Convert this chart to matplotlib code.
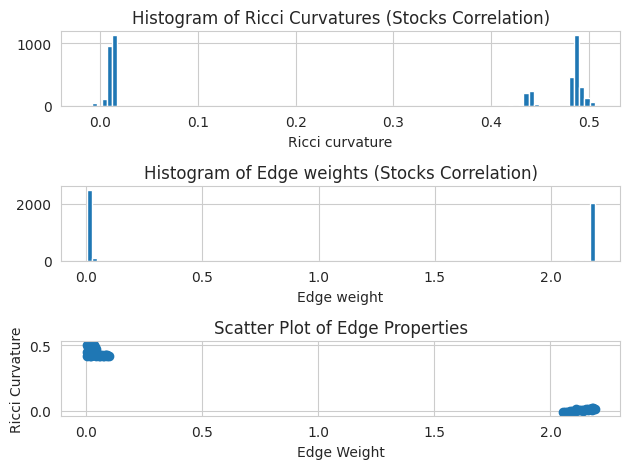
import numpy as np
import matplotlib
matplotlib.use("Agg")
import matplotlib.pyplot as plt
import seaborn as sns

sns.set_style("whitegrid")

# histogram of ricci curvatures: 100 bins, counts of the non-empty bins
ricci_min, ricci_max = -0.014, 0.506
ricci_bins = [0, 1, 3, 4, 5, 83, 85, 86, 87, 88, 95, 96, 97, 98, 99]
ricci_counts = [2, 44, 110, 954, 1133, 10, 10, 201, 239, 27, 467, 1135, 304, 125, 60]

# histogram of edge weights: 100 bins
weight_min, weight_max = 0.0014, 2.1874
weight_bins = [0, 1, 95, 97, 98, 99]
weight_counts = [2492, 84, 12, 30, 12, 2035]

# scatter points (edge weight, ricci curvature)
scatter_w = [0.003, 0.008, 0.013, 0.013, 0.018, 0.023, 0.023, 0.028, 0.033, 0.033,
             0.005, 0.011, 0.021, 0.038, 0.043, 0.053, 0.063, 0.073, 0.083, 0.093,
             0.048, 0.058, 0.068, 0.078, 0.088, 0.031, 0.038, 0.043, 0.033,
             0.005, 0.018, 0.028, 0.098, 0.093,
             2.055, 2.062, 2.072, 2.082, 2.092, 2.102, 2.112, 2.122, 2.132, 2.142,
             2.152, 2.162, 2.172, 2.18, 2.185, 2.19, 2.142, 2.162, 2.18, 2.112]
scatter_r = [0.505, 0.49, 0.5, 0.47, 0.46, 0.49, 0.44, 0.48, 0.45, 0.5,
             0.45, 0.43, 0.42, 0.44, 0.42, 0.43, 0.415, 0.42, 0.43, 0.42,
             0.44, 0.42, 0.43, 0.415, 0.425, 0.47, 0.49, 0.47, 0.43,
             0.42, 0.415, 0.425, 0.42, 0.43,
             -0.012, -0.01, -0.008, -0.005, -0.002, 0.0, 0.002, 0.004, 0.006, 0.008,
             0.01, 0.012, 0.015, 0.018, 0.02, 0.015, 0.0, 0.005, 0.008, 0.01]

ricci_edges = np.linspace(ricci_min, ricci_max, 101)
weight_edges = np.linspace(weight_min, weight_max, 101)
ricci_centers = (ricci_edges[:-1] + ricci_edges[1:]) / 2
weight_centers = (weight_edges[:-1] + weight_edges[1:]) / 2

fig, axes = plt.subplots(3, 1, figsize=(6.4, 4.8), dpi=100)

axes[0].hist(ricci_centers[ricci_bins], bins=ricci_edges, weights=ricci_counts)
axes[0].set_title("Histogram of Ricci Curvatures (Stocks Correlation)")
axes[0].set_xlabel("Ricci curvature")

axes[1].hist(weight_centers[weight_bins], bins=weight_edges, weights=weight_counts)
axes[1].set_title("Histogram of Edge weights (Stocks Correlation)")
axes[1].set_xlabel("Edge weight")

axes[2].scatter(scatter_w, scatter_r)
axes[2].set_title("Scatter Plot of Edge Properties")
axes[2].set_xlabel("Edge Weight")
axes[2].set_ylabel("Ricci Curvature")

plt.tight_layout()
plt.savefig("out.png", bbox_inches="tight")
